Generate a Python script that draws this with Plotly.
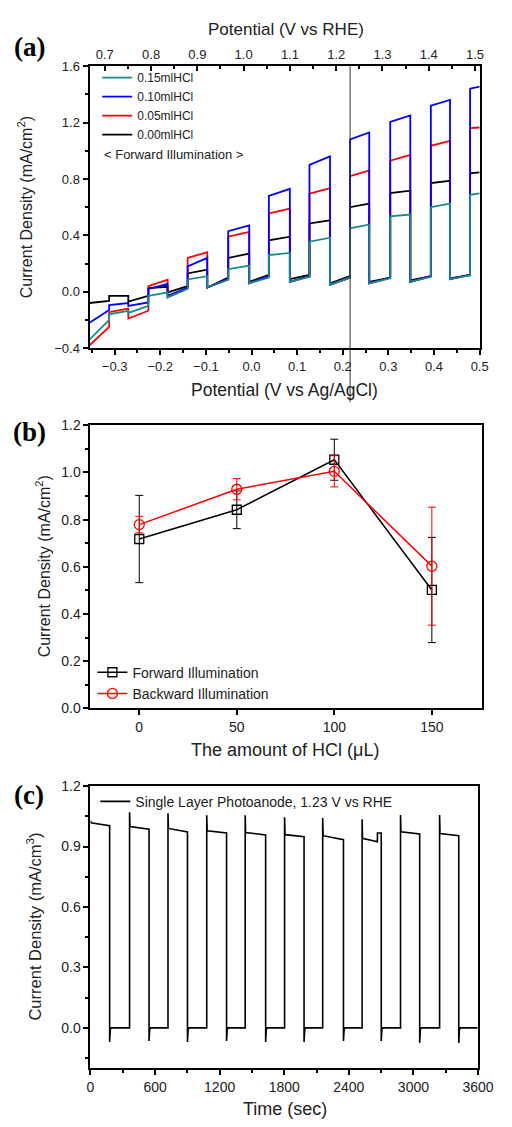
import plotly.graph_objects as go

W, H = 512, 1127

# ---------------- Panel (a) data: chopped-light LSV ----------------
# light switching edges (V vs Ag/AgCl); dark, light, dark, light ...
a_edges = [-0.355, -0.312, -0.270, -0.226, -0.184, -0.140, -0.097, -0.051, -0.005, 0.038,
           0.084, 0.127, 0.172, 0.216, 0.258, 0.304, 0.348, 0.393, 0.435, 0.479, 0.500]
# current at start / end of each segment (mA/cm2)
black_start = [-0.08, -0.03, -0.07, 0.025, -0.005, 0.13, 0.03, 0.24, 0.07, 0.365,
               0.09, 0.484, 0.06, 0.60, 0.07, 0.70, 0.08, 0.77, 0.095, 0.84]
black_end = [-0.065, -0.03, -0.03, 0.035, 0.04, 0.157, 0.10, 0.27, 0.12, 0.39,
             0.12, 0.507, 0.11, 0.625, 0.10, 0.717, 0.11, 0.787, 0.12, 0.846]
red_start = [-0.38, -0.145, -0.19, 0.04, -0.04, 0.24, 0.03, 0.39, 0.06, 0.555,
             0.07, 0.695, 0.05, 0.82, 0.06, 0.93, 0.07, 1.035, 0.09, 1.16]
red_end = [-0.25, -0.12, -0.135, 0.085, 0.025, 0.28, 0.09, 0.425, 0.11, 0.59,
           0.11, 0.735, 0.10, 0.86, 0.10, 0.97, 0.11, 1.07, 0.12, 1.165]
blue_start = [-0.22, -0.095, -0.10, 0.02, -0.03, 0.18, 0.03, 0.43, 0.06, 0.68,
              0.07, 0.90, 0.05, 1.08, 0.06, 1.205, 0.07, 1.32, 0.09, 1.44]
blue_end = [-0.13, -0.08, -0.076, 0.055, 0.03, 0.24, 0.09, 0.47, 0.11, 0.73,
            0.11, 0.96, 0.10, 1.13, 0.10, 1.25, 0.11, 1.36, 0.12, 1.455]
teal_start = [-0.34, -0.16, -0.15, -0.03, -0.04, 0.087, 0.03, 0.16, 0.06, 0.26,
              0.07, 0.355, 0.05, 0.45, 0.06, 0.535, 0.07, 0.60, 0.09, 0.687]
teal_end = [-0.20, -0.135, -0.10, -0.005, 0.02, 0.11, 0.085, 0.185, 0.10, 0.275,
            0.105, 0.383, 0.10, 0.477, 0.095, 0.547, 0.105, 0.625, 0.115, 0.698]
a_series = ["0.00mlHCl", "0.05mlHCl", "0.10mlHCl", "0.15mlHCl"]
a_colors = ["#000000", "#ff0000", "#0000ff", "#178b8b"]
rhe_marker = 1.23

# ---------------- Panel (b) data ----------------
b_hcl = [0, 50, 100, 150]
b_forward = [0.718, 0.842, 1.054, 0.502]
b_forward_err = [0.185, 0.08, 0.087, 0.223]
b_backward = [0.779, 0.929, 1.005, 0.603]
b_backward_err = [0.035, 0.045, 0.066, 0.25]

# ---------------- Panel (c) data: chopped chronoamperometry ----------------
c_on_start = [0, 363, 720, 1080, 1437, 1803, 2157, 2523, 2880, 3243]
c_on_end = [178, 544, 901, 1264, 1627, 1984, 2350, 2701, 3058, 3421]
c_on_spike = [1.028, 1.07, 1.065, 1.055, 1.055, 1.045, 1.042, 1.035, 1.057, 1.057]
c_level_start = [1.018, 0.999, 0.99, 0.978, 0.97, 0.959, 0.954, 0.941, 0.973, 0.964]
c_level_end = [1.003, 0.986, 0.973, 0.967, 0.957, 0.949, 0.934, 0.967, 0.962, 0.954]
c_off_spike = [-0.07, -0.065, -0.07, -0.065, -0.07, -0.07, -0.065, -0.065, -0.075, -0.075]
c_bump_t = 2665
c_bump_from = 0.924
c_end_t = 3595


def steps(edges, s, e):
    xs, ys = [], []
    for i in range(len(s)):
        xs += [edges[i], edges[i + 1]]
        ys += [s[i], e[i]]
    return xs, ys


def ppx(p):
    return p / W


def ppy(p):
    return 1 - p / H


FONT = "Arial, 'Liberation Sans', sans-serif"
TICKC = "#222222"

fig = go.Figure()

# ---- (a) traces ----
for name, color, s, e in zip(a_series, a_colors,
                             [black_start, red_start, blue_start, teal_start],
                             [black_end, red_end, blue_end, teal_end]):
    xs, ys = steps(a_edges, s, e)
    fig.add_trace(go.Scatter(x=xs, y=ys, mode="lines", name=name,
                             line=dict(color=color, width=1.8),
                             xaxis="x", yaxis="y", legend="legend"))
fig.add_trace(go.Scatter(x=[0.7, 1.5], y=[None, None], mode="lines", showlegend=False,
                         xaxis="x2", yaxis="y", hoverinfo="skip"))

# ---- (b) traces ----
fig.add_trace(go.Scatter(x=b_hcl, y=b_forward, mode="lines+markers", name="Forward Illumination",
                         line=dict(color="black", width=1.5),
                         marker=dict(symbol="square-open", size=9, color="black", line=dict(width=1.3)),
                         error_y=dict(type="data", array=b_forward_err, color="black", thickness=1, width=4),
                         xaxis="x3", yaxis="y3", legend="legend2"))
fig.add_trace(go.Scatter(x=b_hcl, y=b_backward, mode="lines+markers", name="Backward Illumination",
                         line=dict(color="red", width=1.5),
                         marker=dict(symbol="circle-open", size=10, color="red", line=dict(width=1.3)),
                         error_y=dict(type="data", array=b_backward_err, color="red", thickness=1, width=4),
                         xaxis="x3", yaxis="y3", legend="legend2"))

# ---- (c) trace ----
cx, cy = [], []
for i in range(len(c_on_start)):
    t0, t1 = c_on_start[i], c_on_end[i]
    if i > 0:
        cx += [t0]
        cy += [0.0]
    cx += [t0, t0 + 4]
    cy += [c_on_spike[i], c_level_start[i]]
    if t0 < c_bump_t < t1:
        cx += [c_bump_t, c_bump_t + 1]
        cy += [c_bump_from, c_level_end[i]]
    cx += [t1, t1, t1 + 6, t1 + 14]
    cy += [c_level_end[i], c_off_spike[i], -0.008, 0.0]
cx += [c_end_t]
cy += [0.0]
fig.add_trace(go.Scatter(x=cx, y=cy, mode="lines", name="Single Layer Photoanode, 1.23 V vs RHE",
                         line=dict(color="black", width=1.6),
                         xaxis="x4", yaxis="y4", legend="legend3"))

axis_common = dict(showgrid=False, zeroline=False, showline=True, linecolor="black", linewidth=2,
                   tickcolor="black", tickwidth=1.5, ticklen=5,
                   tickfont=dict(family=FONT, size=13, color=TICKC))
tf14 = dict(family=FONT, size=14, color=TICKC)

# domains (pixel-derived)
a_x = [ppx(89), ppx(495)]
a_y = [ppy(345), ppy(59)]
b_x = [ppx(90), ppx(497)]
b_y = [ppy(710.5), ppy(423.3)]
c_x = [ppx(90), ppx(493.3)]
c_y = [ppy(1075.5), ppy(789.3)]

fig.update_layout(
    width=W, height=H, margin=dict(l=0, r=0, t=0, b=0),
    paper_bgcolor="white", plot_bgcolor="white",
    font=dict(family=FONT, color="#222222"),
    xaxis=dict(domain=a_x, anchor="y", range=[-0.355, 0.5], dtick=0.1, tick0=0, tickformat=".1f",
               ticks="outside", minor=dict(dtick=0.05, ticks="outside", ticklen=3, tickcolor="black"),
               **axis_common),
    xaxis2=dict(overlaying="x", anchor="y", side="top", range=[0.667, 1.510], dtick=0.1, tick0=0,
                tickformat=".1f", ticks="inside",
                minor=dict(dtick=0.05, ticks="inside", ticklen=3, tickcolor="black"), **axis_common),
    yaxis=dict(domain=a_y, anchor="x", range=[-0.4, 1.6], dtick=0.4, tick0=0, tickformat=".1f",
               ticks="outside", mirror=True,
               minor=dict(dtick=0.2, ticks="outside", ticklen=3, tickcolor="black"), **axis_common),
    xaxis3=dict(domain=b_x, anchor="y3", range=[-25, 175.5], dtick=50, tick0=0, ticks="outside",
                mirror=True, **{**axis_common, "tickfont": tf14}),
    yaxis3=dict(domain=b_y, anchor="x3", range=[0, 1.2], dtick=0.2, tick0=0, tickformat=".1f",
                ticks="outside", mirror=True,
                minor=dict(dtick=0.1, ticks="outside", ticklen=3, tickcolor="black"),
                **{**axis_common, "tickfont": tf14}),
    xaxis4=dict(domain=c_x, anchor="y4", range=[0, 3600], dtick=600, tick0=0, ticks="outside",
                mirror=True, minor=dict(dtick=300, ticks="outside", ticklen=3, tickcolor="black"),
                **{**axis_common, "tickfont": tf14}),
    yaxis4=dict(domain=c_y, anchor="x4", range=[-0.2, 1.2], dtick=0.3, tick0=0, tickformat=".1f",
                ticks="outside", mirror=True,
                minor=dict(dtick=0.15, ticks="outside", ticklen=3, tickcolor="black"),
                **{**axis_common, "tickfont": tf14}),
    legend=dict(x=ppx(97), y=ppy(56), xanchor="left", yanchor="top", traceorder="reversed",
                bgcolor="rgba(0,0,0,0)", font=dict(family=FONT, size=12, color="#222222")),
    legend2=dict(x=ppx(92), y=ppy(658), xanchor="left", yanchor="top",
                 bgcolor="rgba(0,0,0,0)", font=dict(family=FONT, size=14, color="#222222")),
    legend3=dict(x=ppx(95), y=ppy(789), xanchor="left", yanchor="top",
                 bgcolor="rgba(0,0,0,0)", font=dict(family=FONT, size=14, color="#222222")),
    showlegend=True,
)

# vertical marker at 1.23 V vs RHE
fig.add_shape(type="line", xref="x2", yref="paper", x0=rhe_marker, x1=rhe_marker,
              y0=ppy(400), y1=ppy(59), line=dict(color="#333333", width=1), layer="above")


def ann(text, x, y, size, rot=0, xanchor="center", bold=False, family=FONT):
    fig.add_annotation(text=text, x=ppx(x), y=ppy(y), xref="paper", yref="paper",
                       showarrow=False, textangle=rot, xanchor=xanchor, yanchor="middle",
                       font=dict(family=family, size=size, color="#222222" if not bold else "black"))


SERIF = "'Times New Roman', 'Liberation Serif', serif"
ann("<b>(a)</b>", 27, 40, 27, family=SERIF, bold=True)
ann("<b>(b)</b>", 27, 430, 27, family=SERIF, bold=True)
ann("<b>(c)</b>", 26, 798, 27, family=SERIF, bold=True)

ann("Potential (V vs RHE)", 293, 22, 17)
ann("Potential (V vs Ag/AgCl)", 292, 387, 17.5)
ann("Current Density (mA/cm<sup>2</sup>)", 22, 202, 16, rot=-90)
ann("&lt; Forward Illumination &gt;", 102, 149, 13, xanchor="left")

ann("The amount of HCl (\u03bcL)", 292, 753, 18)
ann("Current Density (mA/cm<sup>2</sup>)", 41, 566, 16, rot=-90)

ann("Time (sec)", 292, 1117, 18)
ann("Current Density (mA/cm<sup>3</sup>)", 31, 932, 16.5, rot=-90)

fig.write_html("out.html", config={"displayModeBar": False},
               post_script="document.body.style.margin='0px';document.body.style.overflow='hidden';")
